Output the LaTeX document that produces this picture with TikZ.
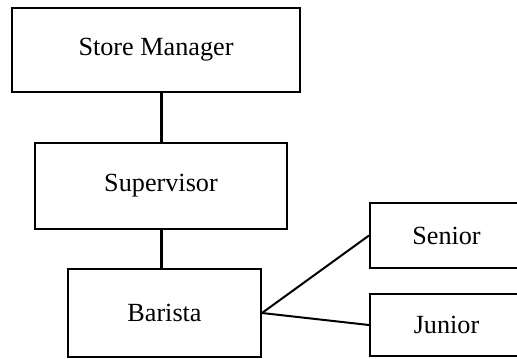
\documentclass[tikz,border=0pt]{standalone}
\usepackage{fontspec}
\setmainfont{Liberation Serif}
\begin{document}
\begin{tikzpicture}[x=0.5pt,y=-0.5pt,
  box/.style={draw=black,line width=1pt,fill=white,inner sep=0pt,
    font=\fontsize{13.1pt}{15pt}\selectfont},
  link/.style={line width=1pt},
  thick link/.style={line width=1.5pt}]
\useasboundingbox (0,0) rectangle (517,358);
\clip (0,0) rectangle (517,358);
\node[box,minimum width=144pt,minimum height=42pt] (sm) at (156,50) {Store Manager};
\node[box,minimum width=126pt,minimum height=43pt] (sup) at (161,186) {Supervisor};
\node[box,minimum width=96.5pt,minimum height=44pt] (bar) at (164.5,313) {Barista};
\node[box,minimum width=76.5pt,minimum height=32.5pt] (sen) at (446.5,235.5) {Senior};
\node[box,minimum width=76.5pt,minimum height=31pt] (jun) at (446.5,325) {Junior};
\draw[thick link] (sup.north) -- (sup.north |- sm.south);
\draw[thick link] (sup.south) -- (sup.south |- bar.north);
\draw[link] (bar.east) -- (sen.west);
\draw[link] (bar.east) -- (jun.west);
\end{tikzpicture}
\end{document}
